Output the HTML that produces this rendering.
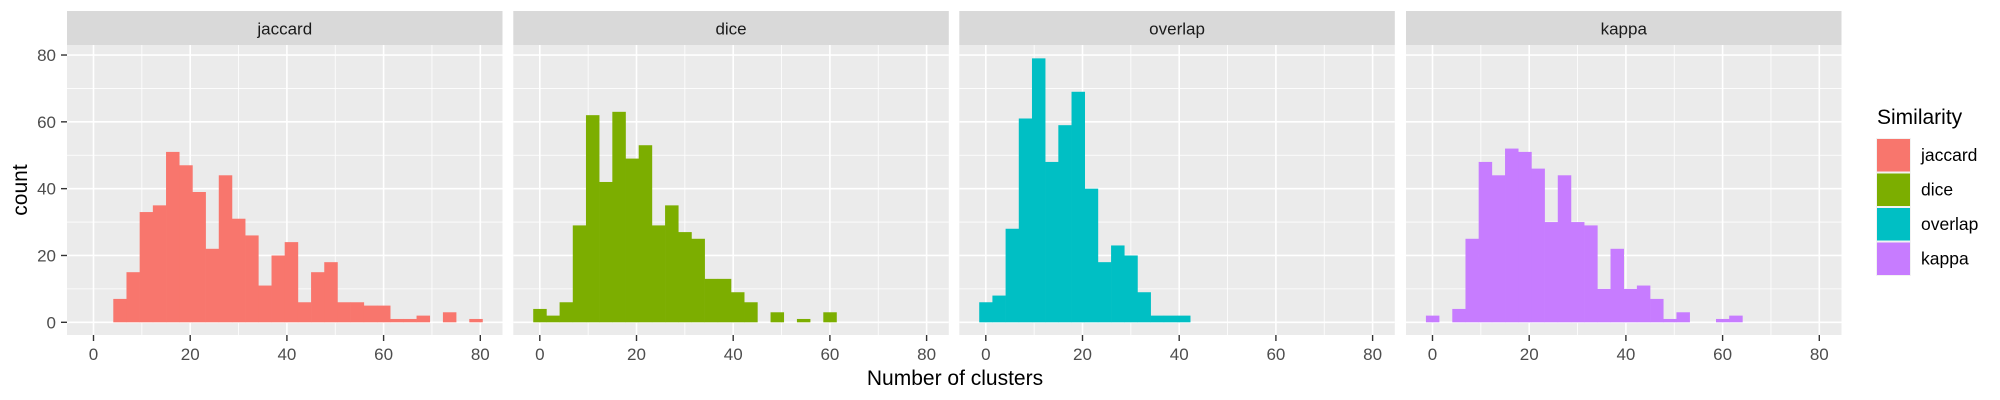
<!DOCTYPE html>
<html><head><meta charset="utf-8"><style>
html,body{margin:0;padding:0;background:#fff;}
svg{display:block;font-family:"Liberation Sans",Arial,sans-serif;}
</style></head><body>
<svg id="chart" width="2000" height="400" viewBox="0 0 2000 400" xmlns="http://www.w3.org/2000/svg"></svg>
<script>
const panelNames = ["jaccard","dice","overlap","kappa"];
const panelColors = ["#F8766D","#7CAE00","#00BFC4","#C77CFF"];
const binStart = -1.36;
const binWidth = 2.727;
const jaccardCounts = [0,0,7,15,33,35,51,47,39,22,44,31,26,11,20,24,6,15,18,6,6,5,5,1,1,2,0,3,0,1];
const diceCounts = [4,2,6,29,62,42,63,49,53,29,35,27,25,13,13,9,6,0,3,0,1,0,3];
const overlapCounts = [6,8,28,61,79,48,59,69,40,18,23,20,9,2,2,2];
const kappaCounts = [2,0,4,25,48,44,52,51,46,30,44,30,29,10,22,10,11,7,1,3,0,0,1,2];
const xTicks = [0,20,40,60,80];
const yTicks = [0,20,40,60,80];
const allCounts = [jaccardCounts, diceCounts, overlapCounts, kappaCounts];

const NS = "http://www.w3.org/2000/svg";
const svg = document.getElementById("chart");
function mk(tag, attrs, parent){
  const e = document.createElementNS(NS, tag);
  for (const k in attrs) e.setAttribute(k, attrs[k]);
  (parent||svg).appendChild(e);
  return e;
}
const panelLefts = [67, 513.3, 959.3, 1406];
const panelW = 435.5, panelTop = 45, panelBottom = 335, stripTop = 11;
const pxPerX = 4.835, x0Off = 26.5;
const yZero = 322.3, pxPerY = 3.341;
function yScale(v){ return yZero - v*pxPerY; }

panelNames.forEach((name, p) => {
  const L = panelLefts[p];
  const xScale = v => L + x0Off + v*pxPerX;
  const g = mk("g", {});
  
  
  const strip = mk("rect", {x:L, y:stripTop, width:panelW, height:panelTop-stripTop, fill:"#D9D9D9"}, g);
  
  
  const st = mk("text", {x:L+panelW/2, y:34.5, "text-anchor":"middle", "font-size":"17", fill:"#1A1A1A"}, g);
  st.textContent = name;
  
  
  const bg = mk("rect", {x:L, y:panelTop, width:panelW, height:panelBottom-panelTop, fill:"#EBEBEB"}, g);
  
  
  [10,30,50,70].forEach(v => {
    mk("line", {x1:L, x2:L+panelW, y1:yScale(v), y2:yScale(v), stroke:"#fff", "stroke-width":0.8}, g);
    mk("line", {x1:xScale(v), x2:xScale(v), y1:panelTop, y2:panelBottom, stroke:"#fff", "stroke-width":0.8}, g);
  });
  yTicks.forEach(v => mk("line", {x1:L, x2:L+panelW, y1:yScale(v), y2:yScale(v), stroke:"#fff", "stroke-width":1.6}, g));
  xTicks.forEach(v => mk("line", {x1:xScale(v), x2:xScale(v), y1:panelTop, y2:panelBottom, stroke:"#fff", "stroke-width":1.6}, g));
  allCounts[p].forEach((c, i) => {
    if (!c) return;
    const x1 = xScale(binStart + i*binWidth), x2 = xScale(binStart + (i+1)*binWidth);
    const r = mk("rect", {x:x1, y:yScale(c), width:x2-x1+0.3, height:yScale(0)-yScale(c), fill:panelColors[p]}, g);
    
    
  });
  xTicks.forEach(v => {
    mk("line", {x1:xScale(v), x2:xScale(v), y1:panelBottom, y2:panelBottom+6, stroke:"#333", "stroke-width":1.4}, g);
    const t = mk("text", {x:xScale(v), y:360, "text-anchor":"middle", "font-size":"17", fill:"#4D4D4D"}, g);
    t.textContent = v;
    
    
  });
});
yTicks.forEach(v => {
  mk("line", {x1:61, x2:67, y1:yScale(v), y2:yScale(v), stroke:"#333", "stroke-width":1.4});
  const t = mk("text", {x:56, y:yScale(v)+6, "text-anchor":"end", "font-size":"17", fill:"#4D4D4D"});
  t.textContent = v;
  
  
});
const yt = mk("text", {x:0, y:0, transform:"translate(27,190) rotate(-90)", "text-anchor":"middle", "font-size":"21", fill:"#000"});
yt.textContent = "count";


const xt = mk("text", {x:955, y:385, "text-anchor":"middle", "font-size":"21", fill:"#000"});
xt.textContent = "Number of clusters";


const lt = mk("text", {x:1877, y:124, "font-size":"21", fill:"#000"});
lt.textContent = "Similarity";


panelNames.forEach((name, i) => {
  const y = 138 + i*34.5;
  const bgk = mk("rect", {x:1876, y:y, width:35, height:34.5, fill:"#F2F2F2"});
  
  
  const k = mk("rect", {x:1877, y:y+1, width:33, height:32.5, fill:panelColors[i]});
  
  
  const t = mk("text", {x:1921, y:y+23, "font-size":"17.5", fill:"#000"});
  t.textContent = name;
  
  
});
</script>
</body></html>
